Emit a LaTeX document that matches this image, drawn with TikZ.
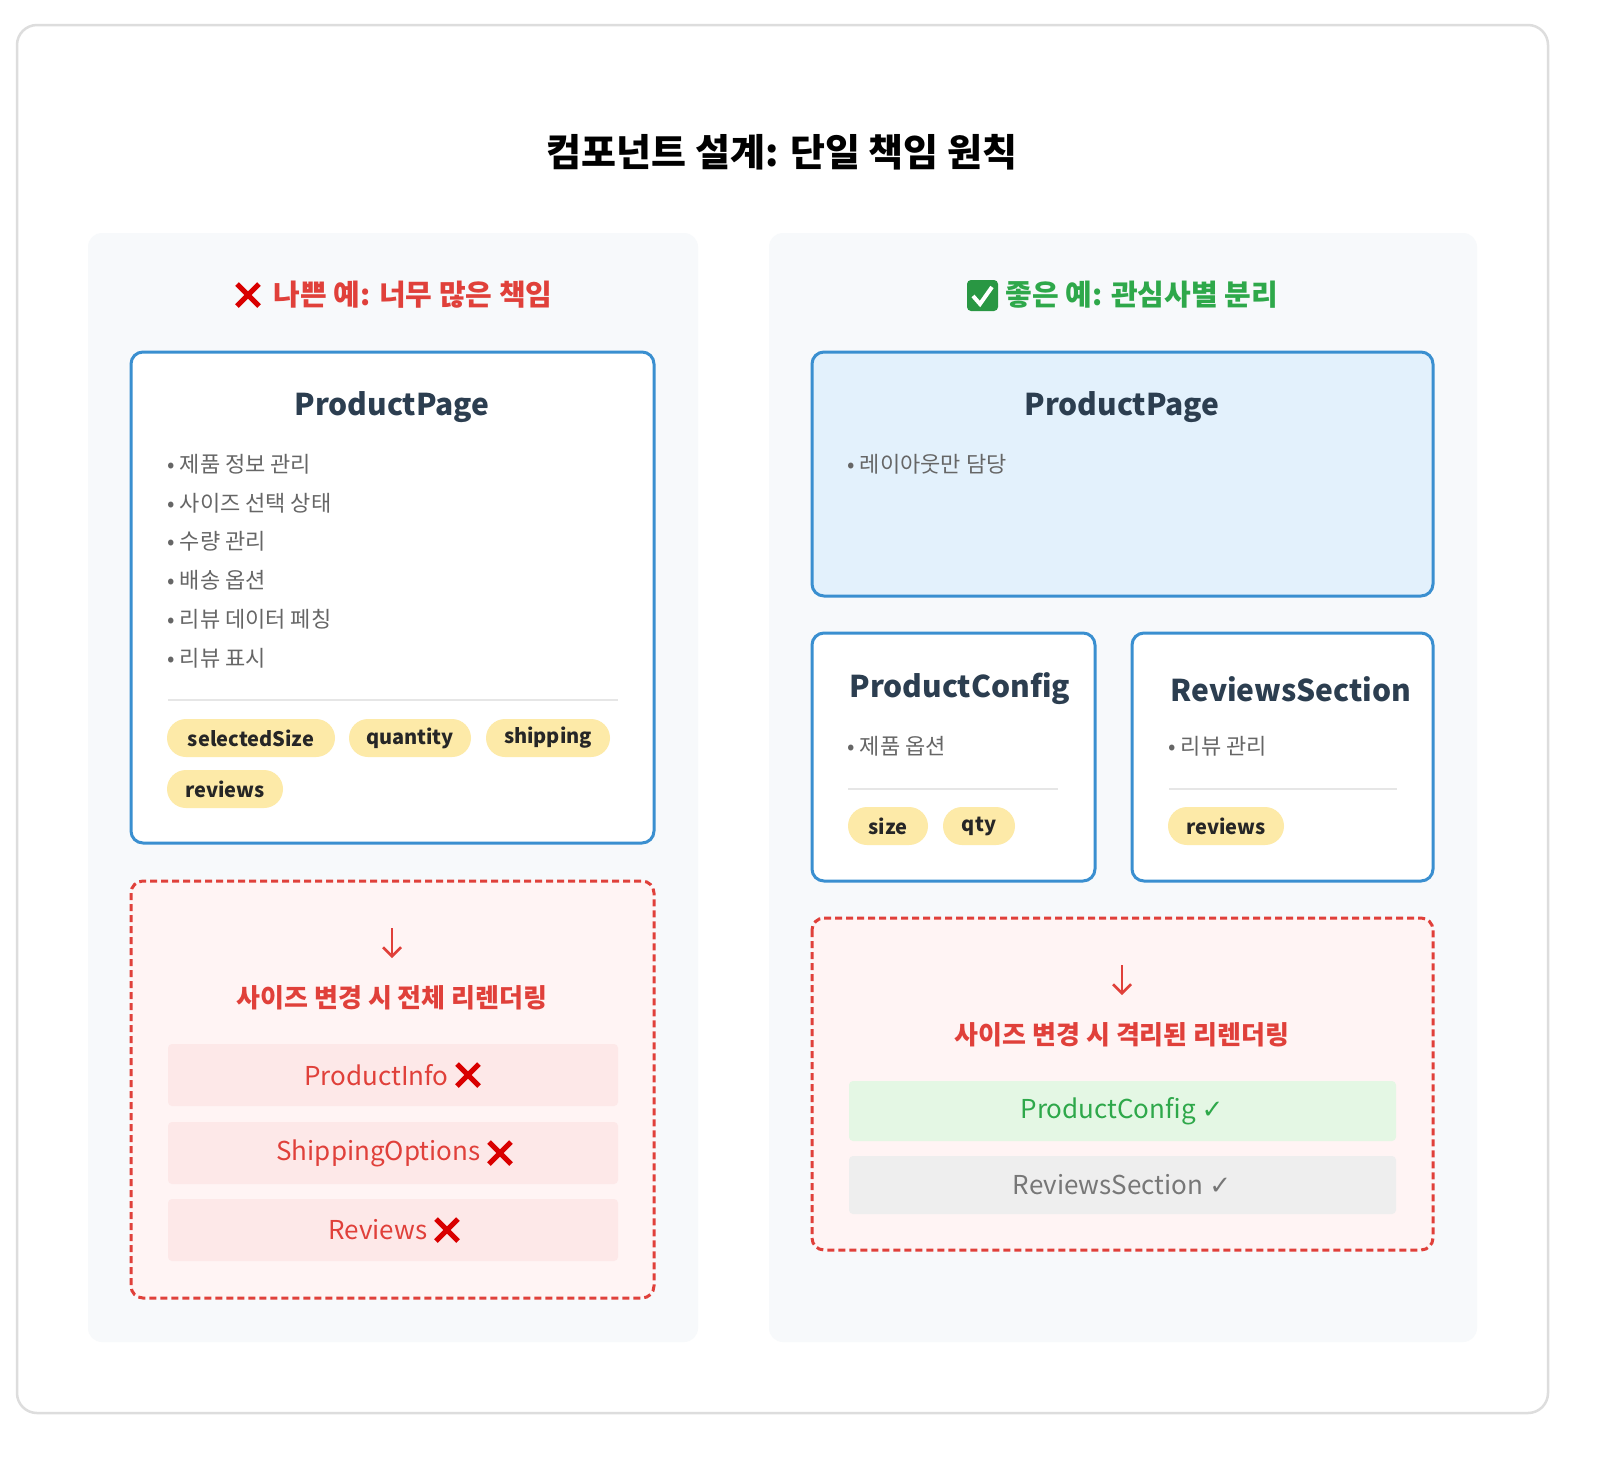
\documentclass[tikz,border=0pt]{standalone}
\usepackage{fontspec}
\setmainfont{Noto Sans CJK KR}
\newfontfamily\symfont{DejaVu Sans}
\usetikzlibrary{positioning,calc,arrows.meta}
\definecolor{cardline}{HTML}{DDDDDD}
\definecolor{panelbg}{HTML}{F7F9FB}
\definecolor{boxblue}{HTML}{3A8FD0}
\definecolor{lightblue}{HTML}{E3F1FC}
\definecolor{titlecol}{HTML}{2C3E50}
\definecolor{bulletcol}{HTML}{666666}
\definecolor{pillbg}{HTML}{FDEAA8}
\definecolor{badred}{HTML}{E0403A}
\definecolor{dashbg}{HTML}{FFF4F4}
\definecolor{rowred}{HTML}{FDE8E8}
\definecolor{goodgreen}{HTML}{2EA84A}
\definecolor{rowgreen}{HTML}{E4F7E4}
\definecolor{rowgray}{HTML}{EEEEEE}
\definecolor{graytext}{HTML}{777777}
\definecolor{sepline}{HTML}{E6E6E6}
\newcommand{\redx}[1]{%
  \draw[red!85!black, line width=5pt] ($(#1)+(-11,-11)$) -- ($(#1)+(11,11)$) ($(#1)+(-11,11)$) -- ($(#1)+(11,-11)$);}
\begin{document}
\begin{tikzpicture}[x=1pt, y=-1pt,
    panel/.style={fill=panelbg, rounded corners=14pt},
    comp/.style={draw=boxblue, line width=3pt, fill=white, rounded corners=12pt},
    dashbox/.style={draw=badred, line width=3pt, dash pattern=on 7pt off 4pt, fill=dashbg, rounded corners=12pt},
    ctitle/.style={font=\fontsize{30}{34}\selectfont\bfseries, text=titlecol},
    bullet/.style={anchor=west, font=\fontsize{22}{26}\selectfont, text=bulletcol},
    pill/.style={fill=pillbg, rounded corners=19pt, minimum height=38pt, inner xsep=0pt, font=\fontsize{20}{24}\selectfont\bfseries, text=black!85},
    row/.style={font=\fontsize{26}{30}\selectfont},
    head/.style={font=\fontsize{29}{34}\selectfont\bfseries},
    down/.style={badred, line width=2.5pt, -{Straight Barb[length=9pt, width=18pt]}}
  ]
  \useasboundingbox (0,0) rectangle (1600,1476);
  \fill[white] (0,0) rectangle (1600,1476);
  \draw[cardline, line width=2.5pt, fill=white, rounded corners=20pt] (17,25) rectangle (1548,1413);
  \node[font=\fontsize{38}{44}\selectfont\bfseries] (title) at (782,152) {컴포넌트 설계: 단일 책임 원칙};

  % left panel
  \fill[panel] (88,233) rectangle (698,1342);
  \node[head, text=badred, anchor=west] (badhead) at (270,295) {나쁜 예: 너무 많은 책임};
  \coordinate (badx) at (248,295);
  \redx{badx}
  \draw[comp] (131,352) rectangle (654,843);
  \node[ctitle] (pp1) at (392,407) {ProductPage};
  \foreach \t [count=\i from 0] in {제품 정보 관리, 사이즈 선택 상태, 수량 관리, 배송 옵션, 리뷰 데이터 페칭, 리뷰 표시}
    \node[bullet] (b\i) at (164,{464+38.8*\i}) {• \t};
  \draw[sepline, line width=1.5pt] (168,700) -- (618,700);
  \node[pill, minimum width=168pt] (p1) at (251,738) {selectedSize};
  \node[pill, minimum width=122pt] (p2) at (410,738) {quantity};
  \node[pill, minimum width=124pt] (p3) at (548,738) {shipping};
  \node[pill, minimum width=116pt] (p4) at (225,789) {reviews};

  \draw[dashbox] (131,881) rectangle (654,1298);
  \coordinate (a1) at (392,928);
  \coordinate (a2) at (392,958);
  \draw[down] (a1) -- (a2);
  \node[text=badred, font=\fontsize{26}{30}\selectfont\bfseries] (badmsg) at (392,998) {사이즈 변경 시 전체 리렌더링};
  \foreach \t/\y/\xx in {ProductInfo/1075/468, ShippingOptions/1153/500, Reviews/1230/447} {
    \fill[rowred, rounded corners=4pt] (168,\y-31) rectangle (618,\y+31);
    \node[row, text=badred, anchor=east] (r\t) at (\xx-16,\y) {\t};
    \coordinate (x\t) at (\xx,\y);
    \redx{x\t}
  }

  % right panel
  \fill[panel] (769,233) rectangle (1477,1342);
  \node[head, text=goodgreen, anchor=west] (goodhead) at (1002,295) {좋은 예: 관심사별 분리};
  \fill[goodgreen!90!black, rounded corners=4pt] (967,280) rectangle (998,311);
  \draw[white, line width=4pt] (973,296) -- (980,304) -- (992,287);
  \draw[comp, fill=lightblue] (812,352) rectangle (1433,596);
  \node[ctitle] (pp2) at (1122,407) {ProductPage};
  \node[bullet] (lb) at (844,464) {• 레이아웃만 담당};

  \draw[comp] (812,633) rectangle (1095,881);
  \node[ctitle, anchor=west] (pc) at (846,689) {ProductConfig};
  \node[bullet] (pcb) at (844,746) {• 제품 옵션};
  \draw[sepline, line width=1.5pt] (848,789) -- (1058,789);
  \node[pill, minimum width=80pt] (ps) at (888,826) {size};
  \node[pill, minimum width=72pt] (pq) at (979,826) {qty};

  \draw[comp] (1132,633) rectangle (1433,881);
  \node[ctitle, anchor=west] (rs) at (1167,689) {ReviewsSection};
  \node[bullet] (rsb) at (1165,746) {• 리뷰 관리};
  \draw[sepline, line width=1.5pt] (1169,789) -- (1397,789);
  \node[pill, minimum width=116pt] (pr) at (1226,826) {reviews};

  \draw[dashbox] (812,918) rectangle (1433,1250);
  \coordinate (a3) at (1122,965);
  \coordinate (a4) at (1122,995);
  \draw[down] (a3) -- (a4);
  \node[text=badred, font=\fontsize{26}{30}\selectfont\bfseries] (goodmsg) at (1122,1035) {사이즈 변경 시 격리된 리렌더링};
  \fill[rowgreen, rounded corners=4pt] (849,1081) rectangle (1396,1141);
  \node[row, text=goodgreen] (g1) at (1122,1111) {ProductConfig {\symfont ✓}};
  \fill[rowgray, rounded corners=4pt] (849,1156) rectangle (1396,1214);
  \node[row, text=graytext] (g2) at (1122,1185) {ReviewsSection {\symfont ✓}};
\end{tikzpicture}
\end{document}
